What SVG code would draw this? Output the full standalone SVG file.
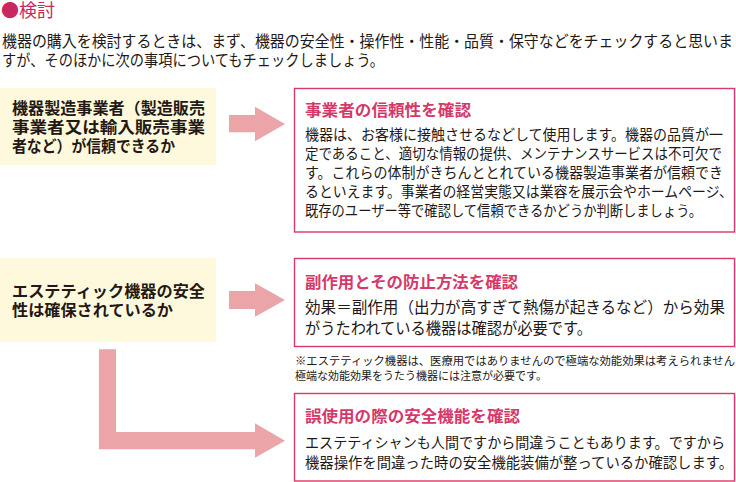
<svg xmlns="http://www.w3.org/2000/svg" width="736" height="482" viewBox="0 0 736 482">
<style>
text{font-family:"Noto Sans CJK JP","Noto Sans",sans-serif;}
.intro{font-size:15.5px;fill:#231815;}
.q{font-size:16px;font-weight:bold;fill:#231815;}
.qbox{fill:#fef9dc;}
.abox{fill:#ffffff;stroke:#d93a63;stroke-width:1.4;}
.title{font-size:16px;font-weight:bold;fill:#d6386a;}
.body{font-size:14.5px;fill:#231815;}
.body2{font-size:16px;fill:#231815;}
.note{font-size:11.3px;fill:#231815;}
.arrow{fill:#eba5a8;}
</style>
<rect width="736" height="482" fill="#ffffff"/>
<g id="heading">
<text x="1" y="17" font-size="18" fill="#c9285e" font-weight="bold">●<tspan font-weight="normal">検討</tspan></text>
<text class="intro" x="2" y="47" textLength="731" lengthAdjust="spacingAndGlyphs">機器の購入を検討するときは、まず、機器の安全性・操作性・性能・品質・保守などをチェックすると思いま</text>
<text class="intro" x="2" y="66" textLength="382" lengthAdjust="spacingAndGlyphs">すが、そのほかに次の事項についてもチェックしましょう。</text>
</g>
<g id="connectors">
<polygon class="arrow" points="229,115 255,115 255,106.7 285,124 255,141.3 255,132.3 229,132.3"/>
<polygon class="arrow" points="229,291 255,291 255,283.3 285,300 255,316.7 255,309 229,309"/>
<polygon class="arrow" points="99,349.3 116,349.3 116,432 255,432 255,423.3 285,440.7 255,457.7 255,449.3 99,449.3"/>
</g>
<g id="q1">
<rect class="qbox" x="0" y="88" width="216" height="77"/>
<text class="q" x="12" y="114" textLength="193" lengthAdjust="spacingAndGlyphs">機器製造事業者（製造販売</text>
<text class="q" x="12" y="133" textLength="193" lengthAdjust="spacingAndGlyphs">事業者又は輸入販売事業</text>
<text class="q" x="12" y="152" textLength="163" lengthAdjust="spacingAndGlyphs">者など）が信頼できるか</text>
</g>
<g id="q2">
<rect class="qbox" x="0" y="258" width="216" height="84"/>
<text class="q" x="12" y="297" textLength="193" lengthAdjust="spacingAndGlyphs">エステティック機器の安全</text>
<text class="q" x="12" y="316" textLength="161" lengthAdjust="spacingAndGlyphs">性は確保されているか</text>
</g>
<g id="a1">
<rect class="abox" x="294.5" y="88.5" width="440" height="143.5"/>
<text class="title" x="305" y="116" textLength="166" lengthAdjust="spacingAndGlyphs">事業者の信頼性を確認</text>
<text class="body" x="305" y="140" textLength="418" lengthAdjust="spacingAndGlyphs">機器は、お客様に接触させるなどして使用します。機器の品質が一</text>
<text class="body" x="305" y="159" textLength="417" lengthAdjust="spacingAndGlyphs">定であること、適切な情報の提供、メンテナンスサービスは不可欠で</text>
<text class="body" x="305" y="178" textLength="418" lengthAdjust="spacingAndGlyphs">す。これらの体制がきちんととれている機器製造事業者が信頼でき</text>
<text class="body" x="305" y="197" textLength="428" lengthAdjust="spacingAndGlyphs">るといえます。事業者の経営実態又は業容を展示会やホームページ、</text>
<text class="body" x="305" y="216" textLength="397" lengthAdjust="spacingAndGlyphs">既存のユーザー等で確認して信頼できるかどうか判断しましょう。</text>
</g>
<g id="a2">
<rect class="abox" x="294.5" y="258.5" width="440" height="88"/>
<text class="title" x="305" y="288" textLength="213" lengthAdjust="spacingAndGlyphs">副作用とその防止方法を確認</text>
<text class="body2" x="305" y="313" textLength="420" lengthAdjust="spacingAndGlyphs">効果＝副作用（出力が高すぎて熱傷が起きるなど）から効果</text>
<text class="body2" x="305" y="334" textLength="287" lengthAdjust="spacingAndGlyphs">がうたわれている機器は確認が必要です。</text>
</g>
<g id="note">
<text class="note" x="295" y="365" textLength="440" lengthAdjust="spacingAndGlyphs">※エステティック機器は、医療用ではありませんので極端な効能効果は考えられません</text>
<text class="note" x="295" y="380" textLength="252" lengthAdjust="spacingAndGlyphs">極端な効能効果をうたう機器には注意が必要です。</text>
</g>
<g id="a3">
<rect class="abox" x="294.5" y="393.5" width="440" height="87.5"/>
<text class="title" x="305" y="422" textLength="215" lengthAdjust="spacingAndGlyphs">誤使用の際の安全機能を確認</text>
<text class="body" x="305" y="448" font-size="15" textLength="420" lengthAdjust="spacingAndGlyphs">エステティシャンも人間ですから間違うこともあります。ですから</text>
<text class="body" x="305" y="468" font-size="15" textLength="428" lengthAdjust="spacingAndGlyphs">機器操作を間違った時の安全機能装備が整っているか確認します。</text>
</g>
</svg>
